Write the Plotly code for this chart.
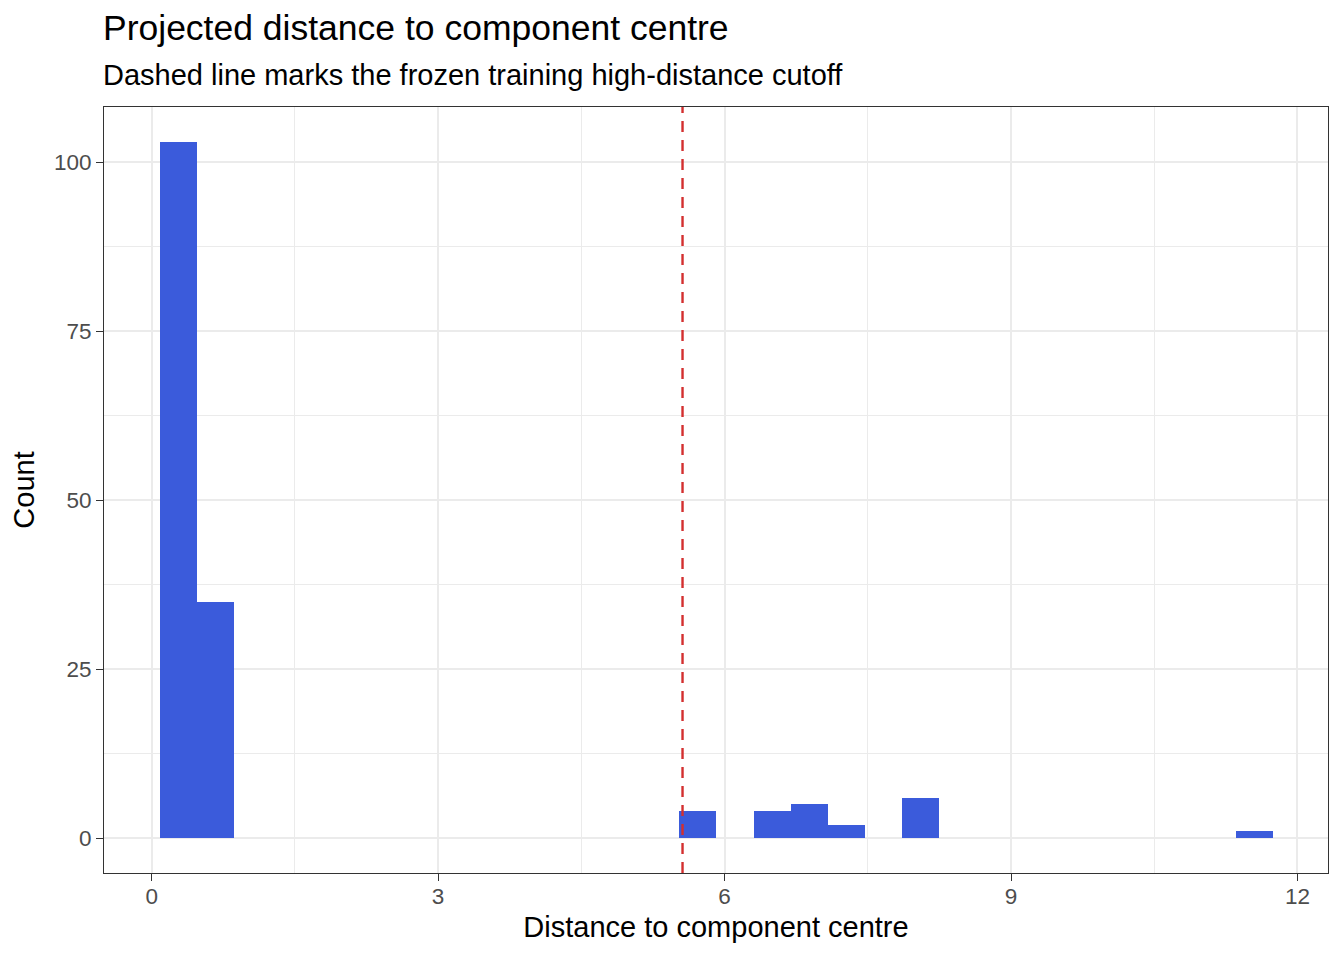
import plotly.graph_objects as go

# histogram bins (bin centres, counts)
bin_width = 0.3887
bin_centres = [0.278, 0.667, 5.72, 6.498, 6.887, 7.276, 8.053, 11.551]
counts = [103, 35, 4, 4, 5, 2, 6, 1]
cutoff = 5.56

x_ticks = [0, 3, 6, 9, 12]
y_ticks = [0, 25, 50, 75, 100]

font = "Liberation Sans, Arial, Helvetica, sans-serif"

fig = go.Figure()
fig.add_trace(go.Bar(x=bin_centres, y=counts, width=bin_width,
                     marker=dict(color="#3B5BDB", line=dict(width=0)),
                     showlegend=False, hoverinfo="x+y"))

# cutoff line, full panel height like geom_vline
fig.add_shape(type="line", x0=cutoff, x1=cutoff, xref="x", y0=0, y1=1, yref="paper",
              line=dict(color="#D32F2F", width=2.4, dash="11px,8px"), layer="above")

axis_common = dict(showline=True, linecolor="#333333", linewidth=1.1, mirror=True,
                   ticks="outside", ticklen=7, tickcolor="#333333", tickwidth=1.1,
                   tickfont=dict(family=font, size=22.5, color="#4D4D4D"),
                   showgrid=True, gridcolor="#EBEBEB", gridwidth=2, zeroline=False)

fig.update_xaxes(range=[-0.499, 12.32], tickvals=x_ticks, ticklabelstandoff=-4,
                 minor=dict(tickvals=[1.5, 4.5, 7.5, 10.5], showgrid=True,
                            gridcolor="#EBEBEB", gridwidth=1, ticks=""),
                 title=dict(text="Distance to component centre", standoff=8,
                            font=dict(family=font, size=29, color="black")),
                 **axis_common)
fig.update_yaxes(range=[-5.15, 108.15], tickvals=y_ticks,
                 minor=dict(tickvals=[12.5, 37.5, 62.5, 87.5], showgrid=True,
                            gridcolor="#EBEBEB", gridwidth=1, ticks=""),
                 title=dict(text="Count", standoff=12,
                            font=dict(family=font, size=29, color="black")),
                 **axis_common)

fig.add_annotation(text="Projected distance to component centre", xref="paper", yref="paper",
                   x=0, y=1.0 + 57 / 766, xanchor="left", yanchor="bottom", showarrow=False,
                   xshift=-3, font=dict(family=font, size=35.5, color="black"))
fig.add_annotation(text="Dashed line marks the frozen training high-distance cutoff",
                   xref="paper", yref="paper", x=0, y=1.0 + 14 / 766,
                   xanchor="left", yanchor="bottom", showarrow=False,
                   xshift=-3, font=dict(family=font, size=29, color="black"))

fig.update_layout(width=1344, height=960, plot_bgcolor="white", paper_bgcolor="white",
                  margin=dict(l=96, r=24, t=99, b=95), bargap=0,
                  font=dict(family=font))

fig.write_html("out.html")
